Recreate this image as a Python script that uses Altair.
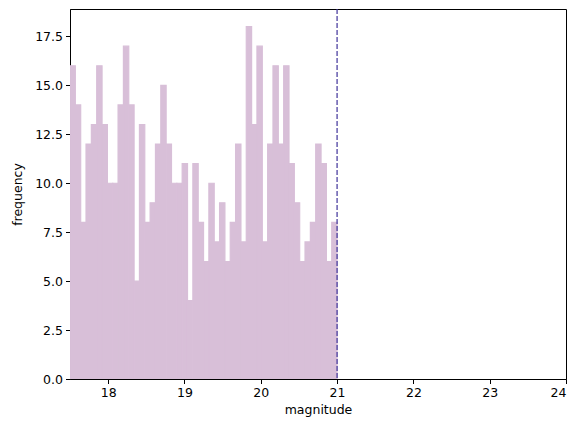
import altair as alt
import pandas as pd

bin_min = 17.5
bin_width = 0.07
counts = [16, 14, 8, 12, 13, 16, 13, 10, 10, 14, 17, 14, 5, 13, 8, 9, 12, 15, 12, 10,
          10, 11, 4, 11, 8, 6, 10, 7, 9, 6, 8, 12, 7, 18, 13, 17, 7, 12, 16, 12,
          16, 11, 9, 6, 7, 8, 12, 11, 6, 8]
limit = [21.0]
x_ticks = [18, 19, 20, 21, 22, 23, 24]
y_ticks = [0, 2.5, 5, 7.5, 10, 12.5, 15, 17.5]

df = pd.DataFrame({
    "start": [bin_min + i * bin_width for i in range(len(counts))],
    "end": [bin_min + (i + 1) * bin_width for i in range(len(counts))],
    "count": counts,
    "base": [0] * len(counts),
})
lim = pd.DataFrame({"x": limit})

FONT = "DejaVu Sans"
xs = alt.Scale(domain=[17.5, 24], nice=False, zero=False)
ys = alt.Scale(domain=[0, 18.9], nice=False)

bars = alt.Chart(df).mark_bar(color="#D8BFD8", opacity=1, fillOpacity=1, strokeOpacity=1,
                              stroke="#D8BFD8", strokeWidth=1.2, clip=True).encode(
    x=alt.X("start:Q", scale=xs, title="magnitude",
            axis=alt.Axis(values=x_ticks, format="d", grid=False)),
    x2="end:Q",
    y=alt.Y("count:Q", scale=ys, title="frequency",
            axis=alt.Axis(values=y_ticks, format=".1f", grid=False)),
    y2="base:Q",
)

rule = alt.Chart(lim).mark_rule(color="#40339A", strokeDash=[5, 2], strokeWidth=1.2).encode(
    x=alt.X("x:Q", scale=xs)
)

chart = (bars + rule).properties(
    width=496, height=370,
    autosize=alt.AutoSizeParams(type="none"),
    padding={"left": 62, "top": 1, "right": 10, "bottom": 40},
).configure_view(stroke="black", strokeWidth=1).configure_axis(
    labelFont=FONT, titleFont=FONT, labelFontSize=12.5, titleFontSize=12.5,
    titleFontWeight="normal", labelColor="black", titleColor="black",
    domainColor="black", tickColor="black", tickSize=4.5, labelPadding=3,
).configure_axisX(titlePadding=4).configure_axisY(titlePadding=10)

chart.save("out.html", embed_options={"renderer": "svg", "actions": False})
